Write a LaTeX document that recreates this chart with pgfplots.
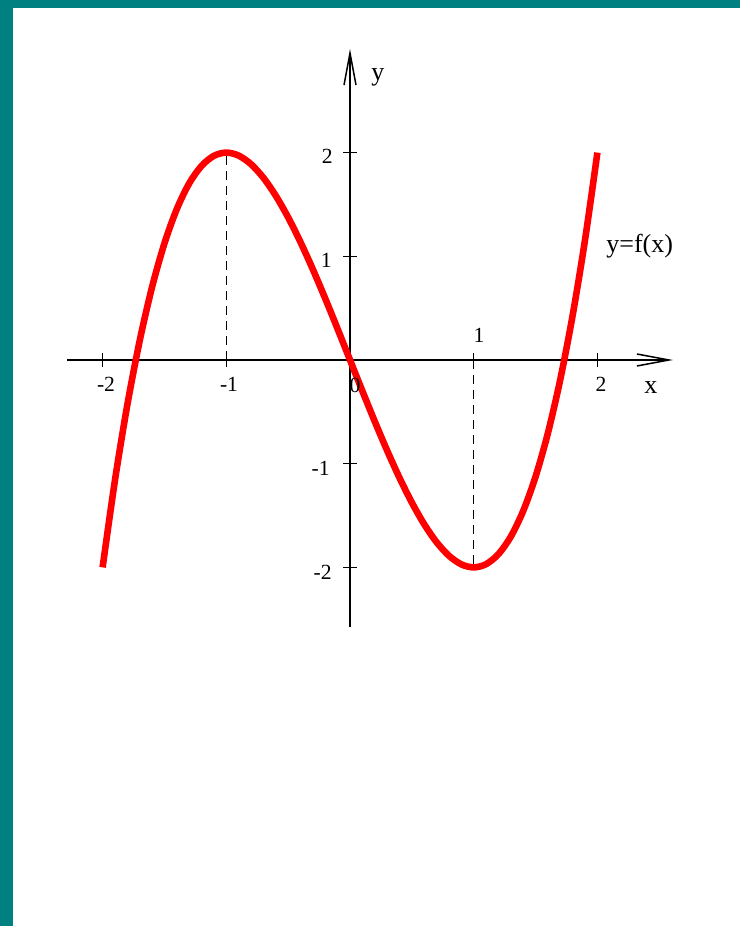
\documentclass[border=0pt]{standalone}
\usepackage{fontspec}
\setmainfont{Liberation Serif}
\usepackage{pgfplots}
\pgfplotsset{compat=1.18}
\usetikzlibrary{arrows.meta}
\definecolor{frameteal}{RGB}{0,128,128}
\newcommand\ticksize{\fontsize{10.8}{12}\selectfont}
\newcommand\labsize{\fontsize{13}{15}\selectfont}

\begin{document}
\begin{tikzpicture}
	% page: white with a teal strip on the left and on top (1px = 0.5pt)
	\fill[white] (0,0) rectangle (370pt,463pt);
	\fill[frameteal] (0,0) rectangle (6.25pt,463pt);
	\fill[frameteal] (0,459pt) rectangle (370pt,463pt);

	\begin{axis}[
		at={(175pt,283pt)}, anchor=origin,
		x=61.85pt, y=51.85pt,
		axis lines=middle,
		xmin=-2.288, xmax=2.611,
		ymin=-2.575, ymax=3.0,
		xtick={-2,-1,1,2}, ytick={-2,-1,1,2},
		xticklabels={,,,}, yticklabels={,,,},
		tick align=center,
		major tick length=7pt,
		every tick/.style={black, line width=0.75pt},
		axis line style={black, line width=0.75pt, -{Straight Barb[length=16pt,width=6pt]}},
		every inner x axis line/.append style={-{Straight Barb[length=16pt,width=6pt]}},
		every inner y axis line/.append style={-{Straight Barb[length=16pt,width=6pt]}},
		clip=false,
		]

		% dashed guides to the extrema
		\addplot[black, line width=0.6pt, dash pattern=on 4.5pt off 3pt] coordinates {(-1,0) (-1,2)};
		\addplot[black, line width=0.6pt, dash pattern=on 4.5pt off 3pt] coordinates {(1,0) (1,-2)};

		% y = f(x)
		\addplot[red, line width=3.3pt, smooth] coordinates {
			(-2.0,-2) (-1.9,-1.159) (-1.8,-0.432) (-1.7,0.187) (-1.6,0.704)
			(-1.5,1.125) (-1.4,1.456) (-1.3,1.703) (-1.2,1.872) (-1.1,1.969)
			(-1.0,2) (-0.9,1.971) (-0.8,1.888) (-0.7,1.757) (-0.6,1.584)
			(-0.5,1.375) (-0.4,1.136) (-0.3,0.873) (-0.2,0.592) (-0.1,0.299)
			(0,0) (0.1,-0.299) (0.2,-0.592) (0.3,-0.873) (0.4,-1.136)
			(0.5,-1.375) (0.6,-1.584) (0.7,-1.757) (0.8,-1.888) (0.9,-1.971)
			(1.0,-2) (1.1,-1.969) (1.2,-1.872) (1.3,-1.703) (1.4,-1.456)
			(1.5,-1.125) (1.6,-0.704) (1.7,-0.187) (1.8,0.432) (1.9,1.159)
			(2.0,2)
		};
	\end{axis}

	% labels, placed in pixel units of the reference
	\begin{scope}[yshift=463pt, x=0.5pt, y=-0.5pt]
		\node[font=\ticksize, inner sep=0] at (106,384) {-2};
		\node[font=\ticksize, inner sep=0] at (229,384) {-1};
		\node[font=\ticksize, inner sep=0] at (355,385) {0};
		\node[font=\ticksize, inner sep=0] at (479,335) {1};
		\node[font=\ticksize, inner sep=0] at (601,384) {2};
		\node[font=\ticksize, inner sep=0, anchor=east] at (333,156) {2};
		\node[font=\ticksize, inner sep=0, anchor=east] at (332,260) {1};
		\node[font=\ticksize, inner sep=0, anchor=east] at (330,468) {-1};
		\node[font=\ticksize, inner sep=0, anchor=east] at (332,572) {-2};
		\node[font=\labsize, inner sep=0, anchor=base west] at (371,81) {y};
		\node[font=\labsize, inner sep=0, anchor=base west] at (644,394) {x};
		\node[font=\labsize, inner sep=0, anchor=base west] at (606,253) {y=f(x)};
	\end{scope}

	\pgfresetboundingbox
	\path[use as bounding box] (0,0) rectangle (370pt,463pt);
\end{tikzpicture}
\end{document}
